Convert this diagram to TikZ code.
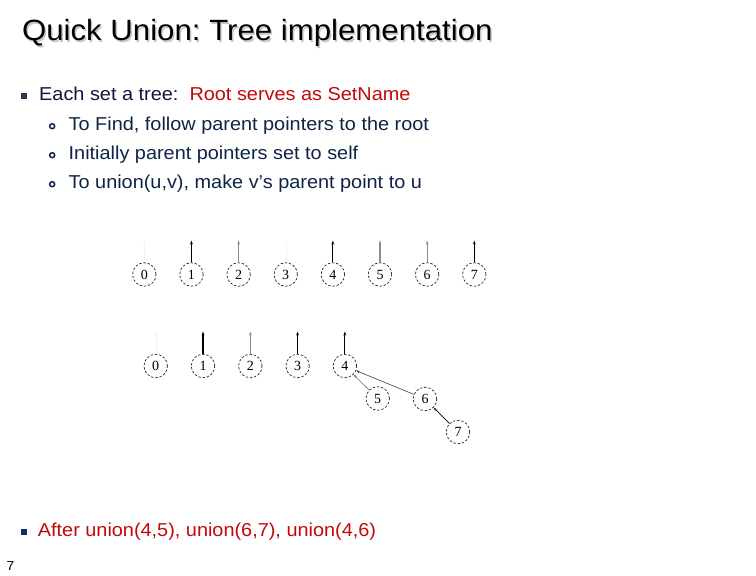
\documentclass[tikz,border=0pt]{standalone}
\usepackage{fontspec}
\setmainfont[FakeStretch=1.065]{Liberation Sans}
\newfontfamily\digfont{Liberation Serif}
\usetikzlibrary{arrows.meta}
\frenchspacing
\definecolor{navy}{HTML}{12143E}
\definecolor{subnavy}{HTML}{0E2446}
\definecolor{slidered}{HTML}{C00A0A}
\definecolor{sqgray}{HTML}{2C3A52}
\definecolor{sqblue}{HTML}{0B3463}
\tikzset{
  txt/.style={anchor=base west, inner sep=0pt, font=\fontsize{18.67}{20}\selectfont},
  sqbullet/.style={fill=#1, draw=none, minimum size=6.2pt, inner sep=0pt},
  ringbullet/.style={circle, draw=subnavy, line width=1.5pt, minimum size=5pt, inner sep=0pt},
  uf/.style={circle, draw=black!85, dashed, dash pattern=on 2.4pt off 1.8pt, line width=0.7pt,
    minimum size=23.5pt, inner sep=0pt, font=\digfont\fontsize{14}{14}\selectfont},
  par/.style={-{Stealth[length=4pt,width=2.8pt]}, line width=1.1pt, draw=#1},
  par/.default=black,
  faint/.style={-{Stealth[length=3pt,width=2.4pt]}, line width=0.3pt, draw=black!5}
}
\begin{document}
\begin{tikzpicture}[x=1pt,y=-1pt]
\useasboundingbox (0,0) rectangle (756,576);
% title with shadow
\node[anchor=base west, inner sep=0pt, text=black!22, font=\fontsize{29.3}{30}\selectfont] (titleshadow) at (23.3,42.3) {Quick Union: Tree implementation};
\node[anchor=base west, inner sep=0pt, font=\fontsize{29.3}{30}\selectfont] (title) at (21.8,40.8) {Quick Union: Tree implementation};
% bullets
\node[sqbullet=sqgray] (b1) at (24,96) {};
\node[txt, text=navy] (t1) at (39,100.7) {Each set a tree:\ \ \textcolor{slidered}{Root serves as SetName}};
\node[ringbullet] (r1) at (52.2,126.2) {};
\node[txt, text=subnavy] (t2) at (68.5,130) {To Find, follow parent pointers to the root};
\node[ringbullet] (r2) at (52.2,155.2) {};
\node[txt, text=subnavy] (t3) at (68.5,159) {Initially parent pointers set to self};
\node[ringbullet] (r3) at (52.2,184.2) {};
\node[txt, text=subnavy] (t4) at (68.5,188) {To union(u,v), make v’s parent point to u};
\node[sqbullet=sqblue] (b2) at (23.7,532.3) {};
\node[txt, text=slidered] (t5) at (37.7,536) {After union(4,5), union(6,7), union(4,6)};
\node[anchor=base west, inner sep=0pt, font=\fontsize{13}{13}\selectfont] (pg) at (6.5,570.5) {7};
% row 1
\foreach \i in {0,...,7} {
  \node[uf] (a\i) at ({144.3+47.14*\i},274.5) {\i};
  \coordinate (ta\i) at ({144.3+47.14*\i},240.5);
}
\draw[faint] (a0) -- (ta0);
\draw[faint] (a3) -- (ta3);
\draw[par] (a1) -- (ta1);
\draw[par=black!45] (a2) -- (ta2);
\draw[par] (a4) -- (ta4);
\draw[par=black!45] (a5) -- (ta5);
\draw[par=black!45] (a6) -- (ta6);
\draw[par] (a7) -- (ta7);
% row 2
\foreach \i in {0,...,4} {
  \node[uf] (c\i) at ({155.7+47.3*\i},366) {\i};
  \coordinate (tc\i) at ({155.7+47.3*\i},331.5);
}
\node[uf] (c5) at (377.7,398.5) {5};
\node[uf] (c6) at (425,399) {6};
\node[uf] (c7) at (458,432) {7};
\draw[faint] (c0) -- (tc0);
\draw[par] (c1) -- (tc1);
\draw[par=black!45] (c2) -- (tc2);
\draw[par] (c3) -- (tc3);
\draw[par] (c4) -- (tc4);
\draw[-{Stealth[length=4pt,width=2.8pt]}, line width=0.6pt, draw=black!55] (c5) -- (c4);
\draw[-{Stealth[length=4pt,width=2.8pt]}, line width=0.6pt, draw=black!75] (c6) -- (c4);
\draw[-{Stealth[length=4pt,width=2.8pt]}, line width=0.8pt, draw=black!85] (c7) -- (c6);
\end{tikzpicture}
\end{document}
